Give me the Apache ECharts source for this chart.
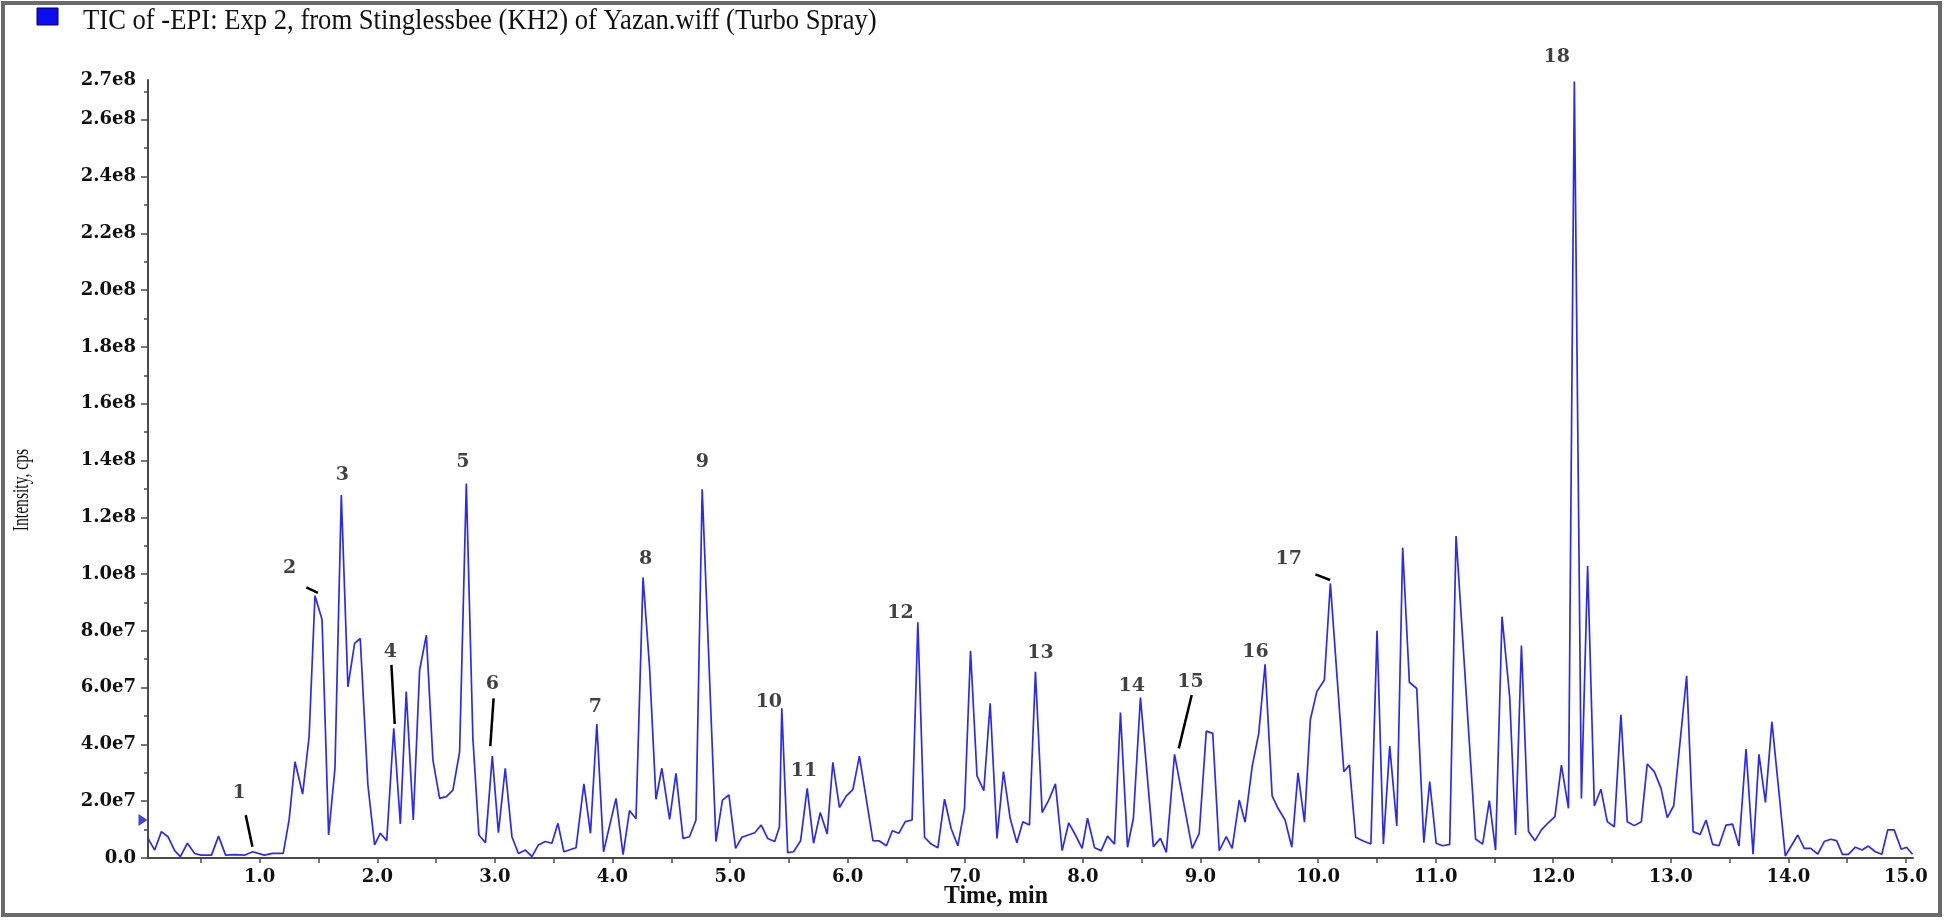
<!DOCTYPE html>
<html><head><meta charset="utf-8">
<script src="https://cdn.jsdelivr.net/npm/echarts@6/dist/echarts.min.js"></script>
<style>html,body{margin:0;padding:0;background:#fff}#c{width:1946px;height:921px}</style>
</head><body><div id="c"></div>
<script>
// Retention time (min) and TIC intensity (x1e7 cps)
const timeMin = [
0.05,0.107,0.164,0.22,0.277,0.325,0.385,0.447,0.50,0.59,0.65,0.71,0.79,0.87,0.94,1.04,1.11,1.20,1.25,1.30,
1.365,1.42,1.47,1.53,1.586,1.64,1.694,1.75,1.807,1.855,1.92,1.977,2.025,2.08,2.14,2.196,2.246,2.306,2.36,2.417,
2.473,2.53,2.587,2.643,2.70,2.757,2.813,2.864,2.92,2.978,3.03,3.088,3.145,3.20,3.26,3.315,3.37,3.428,3.485,3.536,
3.587,3.69,3.757,3.813,3.867,3.924,4.03,4.09,4.145,4.20,4.26,4.315,4.37,4.42,4.486,4.54,4.60,4.655,4.71,4.763,
4.88,4.935,4.99,5.047,5.10,5.21,5.265,5.32,5.38,5.42,5.44,5.49,5.54,5.60,5.656,5.71,5.767,5.826,5.874,5.93,
5.988,6.045,6.10,6.215,6.27,6.33,6.38,6.435,6.49,6.548,6.597,6.654,6.71,6.767,6.824,6.88,6.937,6.994,7.045,7.10,
7.158,7.212,7.27,7.325,7.382,7.439,7.49,7.546,7.597,7.654,7.71,7.767,7.824,7.88,7.937,7.994,8.04,8.10,8.156,8.21,
8.27,8.32,8.38,8.43,8.49,8.60,8.66,8.71,8.78,8.93,8.99,9.05,9.105,9.16,9.22,9.27,9.33,9.38,9.44,9.496,
9.55,9.61,9.66,9.72,9.777,9.83,9.885,9.935,9.99,10.054,10.105,10.22,10.267,10.32,10.38,10.45,10.502,10.556,10.61,10.67,
10.72,10.777,10.84,10.90,10.95,11.005,11.06,11.12,11.174,11.34,11.40,11.457,11.51,11.565,11.63,11.68,11.73,11.79,11.845,11.90,
11.96,12.015,12.07,12.13,12.18,12.24,12.293,12.35,12.406,12.46,12.52,12.576,12.63,12.69,12.75,12.80,12.86,12.917,12.97,13.025,
13.135,13.19,13.25,13.30,13.356,13.41,13.47,13.526,13.58,13.64,13.70,13.75,13.805,13.86,13.974,14.08,14.135,14.19,14.25,14.305,
14.36,14.41,14.46,14.51,14.57,14.627,14.68,14.74,14.795,14.845,14.90,14.96,15.005,15.056
];
const intensityE7 = [
0.69,0.28,0.93,0.75,0.26,0.05,0.52,0.16,0.10,0.10,0.77,0.10,0.12,0.10,0.22,0.10,0.16,0.16,1.34,3.39,
2.25,4.27,9.24,8.40,0.81,3.16,12.78,6.03,7.56,7.73,2.57,0.46,0.87,0.61,4.57,1.20,5.86,1.34,6.62,7.85,
3.45,2.10,2.16,2.39,3.74,13.19,4.21,0.81,0.54,3.59,0.89,3.16,0.75,0.16,0.28,0.05,0.46,0.58,0.52,1.22,
0.22,0.36,2.61,0.87,4.72,0.22,2.10,0.12,1.67,1.38,9.88,6.74,2.07,3.16,1.36,2.98,0.69,0.75,1.34,12.99,
0.58,2.04,2.22,0.34,0.73,0.89,1.16,0.69,0.58,1.10,5.27,0.19,0.22,0.61,2.45,0.52,1.60,0.85,3.37,1.78,
2.18,2.42,3.59,0.61,0.60,0.43,0.96,0.87,1.28,1.34,8.30,0.73,0.49,0.36,2.07,1.04,0.43,1.75,7.30,2.89,
2.37,5.45,0.69,3.04,1.40,0.54,1.28,1.16,6.56,1.60,2.04,2.61,0.26,1.24,0.81,0.34,1.40,0.36,0.26,0.77,
0.49,5.12,0.38,1.40,5.65,0.40,0.69,0.20,3.65,0.34,0.87,4.47,4.39,0.26,0.75,0.34,2.04,1.26,3.22,4.39,
6.82,2.19,1.75,1.34,0.38,3.00,1.26,4.88,5.86,6.27,9.67,3.04,3.27,0.73,0.61,0.49,8.00,0.49,3.94,1.13,
10.93,6.19,5.97,0.54,2.69,0.52,0.43,0.48,11.34,0.67,0.49,2.02,0.28,8.50,5.68,0.81,7.48,0.93,0.61,0.99,
1.25,1.46,3.27,1.75,27.35,2.10,10.28,1.83,2.42,1.28,1.10,5.04,1.28,1.14,1.28,3.31,3.04,2.45,1.42,1.84,
6.42,0.93,0.83,1.34,0.48,0.43,1.16,1.19,0.42,3.84,0.13,3.65,1.96,4.80,0.07,0.81,0.34,0.34,0.14,0.58,
0.66,0.61,0.13,0.13,0.38,0.28,0.42,0.22,0.13,0.99,0.99,0.31,0.38,0.13
];

// Peak annotations (label text and anchor in data units: min, x1e7 cps)
const peakLabels = ['1','2','3','4','5','6','7','8','9','10','11','12','13','14','15','16','17','18'];
const peakLabelTime = [0.824,1.255,1.703,2.111,2.728,2.978,3.854,4.282,4.764,5.33,5.628,6.45,7.64,8.416,8.915,9.468,9.751,12.03];
const peakLabelE7 = [2.28,10.2,13.49,7.26,13.95,6.13,5.31,10.52,13.95,5.50,3.06,8.64,7.21,6.07,6.19,7.24,10.52,28.2];

// Leader lines: [t1, v1(e7), t2, v2(e7)]
const leaderFromTime = [0.881,1.397,2.12,2.989,8.926,9.978];
const leaderFromE7   = [1.51,9.53,6.80,5.62,5.74,9.99];
const leaderToTime   = [0.938,1.495,2.148,2.961,8.816,10.103];
const leaderToE7     = [0.40,9.34,4.72,3.94,3.86,9.79];

// Axis ticks and labels
const xTickValues = [0.5,1,1.5,2,2.5,3,3.5,4,4.5,5,5.5,6,6.5,7,7.5,8,8.5,9,9.5,10,10.5,11,11.5,12,12.5,13,13.5,14,14.5,15];
const xLabelValues = [1,2,3,4,5,6,7,8,9,10,11,12,13,14,15];
const xLabelTexts = ['1.0','2.0','3.0','4.0','5.0','6.0','7.0','8.0','9.0','10.0','11.0','12.0','13.0','14.0','15.0'];
const yLabelValues = [0,2e7,4e7,6e7,8e7,1e8,1.2e8,1.4e8,1.6e8,1.8e8,2.0e8,2.2e8,2.4e8,2.6e8,2.74e8];
const yLabelTexts = ['0.0','2.0e7','4.0e7','6.0e7','8.0e7','1.0e8','1.2e8','1.4e8','1.6e8','1.8e8','2.0e8','2.2e8','2.4e8','2.6e8','2.7e8'];
const yMajorTicks = [0,2e7,4e7,6e7,8e7,1e8,1.2e8,1.4e8,1.6e8,1.8e8,2.0e8,2.2e8,2.4e8,2.6e8];
const yMinorTicks = [1e7,3e7,5e7,7e7,9e7,1.1e8,1.3e8,1.5e8,1.7e8,1.9e8,2.1e8,2.3e8,2.5e8,2.7e8];
const xMin = 0.05, xMax = 15.06, yMax = 2.74e8;
const markerE7 = 1.34;

const titleText = 'TIC of -EPI: Exp 2, from Stinglessbee (KH2) of Yazan.wiff (Turbo Spray)';
const xTitle = 'Time, min';
const yTitle = 'Intensity, cps';

const chart = echarts.init(document.getElementById('c'), null, {renderer: 'canvas'});
const axisColor = '#4a4a4a';
const labelFont = {fontFamily: 'DejaVu Serif', fontWeight: 'bold', fontSize: 18, color: '#111111'};

const option = {
  animation: false,
  backgroundColor: '#ffffff',
  grid: {left: 148, right: 33, top: 80, bottom: 63, containLabel: false, outerBoundsMode: 'none'},
  xAxis: {
    type: 'value', min: xMin, max: xMax,
    axisLine: {show: true, onZero: false, lineStyle: {color: axisColor, width: 2}},
    axisTick: {show: true, length: 5, customValues: xTickValues, lineStyle: {color: axisColor, width: 1.5}},
    axisLabel: Object.assign({customValues: xLabelValues, margin: 10,
      formatter: v => { const i = xLabelValues.indexOf(v); return i >= 0 ? xLabelTexts[i] : ''; }}, labelFont),
    splitLine: {show: false}
  },
  yAxis: [{
    type: 'value', min: 0, max: yMax,
    axisLine: {show: true, lineStyle: {color: axisColor, width: 2}},
    axisTick: {show: true, length: 7, customValues: yMajorTicks, lineStyle: {color: axisColor, width: 1.5}},
    axisLabel: Object.assign({customValues: yLabelValues, margin: 12,
      formatter: v => { const i = yLabelValues.indexOf(v); return i >= 0 ? yLabelTexts[i] : ''; }}, labelFont),
    splitLine: {show: false}
  }, {
    type: 'value', min: 0, max: yMax, position: 'left',
    axisLine: {show: false},
    axisTick: {show: true, length: 4, customValues: yMinorTicks, lineStyle: {color: axisColor, width: 1.5}},
    axisLabel: {show: false},
    splitLine: {show: false}
  }],
  series: [{
    type: 'line', name: 'TIC',
    data: timeMin.map((t, i) => [t, intensityE7[i] * 1e7]),
    symbol: 'none',
    lineStyle: {color: '#2a2af2', width: 1.7},
    z: 3,
    markLine: {
      silent: true, symbol: ['none', 'none'],
      label: {show: false},
      lineStyle: {color: '#000000', width: 2.5, type: 'solid'},
      data: leaderFromTime.map((t, i) => [
        {coord: [t, leaderFromE7[i] * 1e7]},
        {coord: [leaderToTime[i], leaderToE7[i] * 1e7]}
      ])
    }
  }, {
    type: 'scatter', name: 'peaks',
    data: peakLabels.map((n, i) => ({name: n, value: [peakLabelTime[i], peakLabelE7[i] * 1e7]})),
    symbolSize: 1, clip: false, silent: true,
    itemStyle: {color: 'rgba(0,0,0,0)'},
    label: {show: true, position: 'inside', formatter: p => p.name,
      fontFamily: 'DejaVu Serif', fontWeight: 'bold', fontSize: 19, color: '#111111'},
    z: 5
  }, {
    type: 'scatter', name: 'marker',
    data: [[xMin, markerE7 * 1e7]],
    symbol: 'triangle', symbolSize: [12, 9], symbolRotate: -90, symbolOffset: [-5, 0],
    clip: false, silent: true,
    itemStyle: {color: '#1414d8'},
    z: 6
  }],
  graphic: [
    {type: 'rect', shape: {x: 3, y: 3, width: 1937, height: 912}, style: {fill: 'none', stroke: '#6a6a6a', lineWidth: 4}, z: 100},
    {type: 'rect', shape: {x: 37, y: 8, width: 21, height: 17}, style: {fill: '#0c0cf0', stroke: '#00006a', lineWidth: 1}},
    {type: 'text', x: 83, y: 21, scaleX: 0.918, style: {text: titleText, font: '29px "Liberation Serif"', fill: '#111', textVerticalAlign: 'middle', textAlign: 'left'}},
    {type: 'text', x: 996, y: 897, scaleX: 0.95, style: {text: xTitle, font: 'bold 25px "Liberation Serif"', fill: '#111', textVerticalAlign: 'middle', textAlign: 'center'}},
    {type: 'text', x: 22, y: 490, rotation: Math.PI / 2, scaleX: 0.68, style: {text: yTitle, font: '23px "Liberation Serif"', fill: '#111', textVerticalAlign: 'middle', textAlign: 'center'}}
  ]
};
chart.setOption(option);
</script>
</body></html>
